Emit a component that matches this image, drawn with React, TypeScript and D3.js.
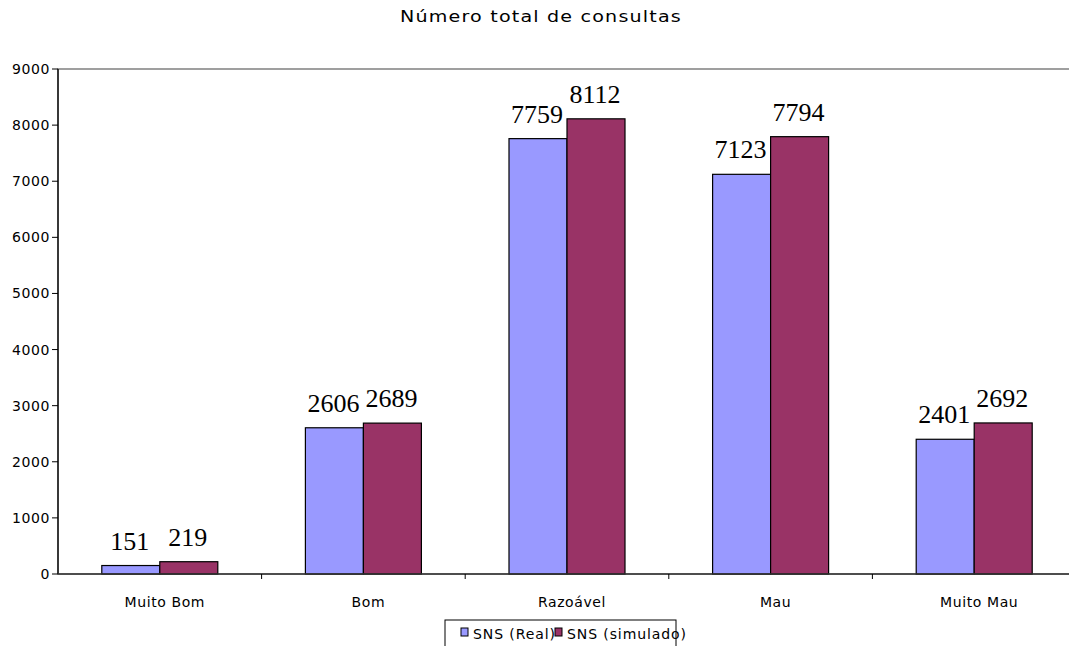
import React from "react";
import * as d3 from "d3";

const categories = ["Muito Bom", "Bom", "Razoável", "Mau", "Muito Mau"];
const seriesNames = ["SNS (Real)", "SNS (simulado)"];
const realValues = [151, 2606, 7759, 7123, 2401];
const simValues = [219, 2689, 8112, 7794, 2692];
const yTicks = [0, 1000, 2000, 3000, 4000, 5000, 6000, 7000, 8000, 9000];
const colors = ["#9999FF", "#993366"];

const W = 1069;
const H = 646;
const left = 58;
const top = 69;
const bottom = 574;
const bandW = 203.6;
const right = left + bandW * categories.length;

export default function App() {
  const x = d3.scaleBand<string>().domain(categories).range([left, right]);
  const y = d3.scaleLinear().domain([0, 9000]).range([bottom, top]);
  const barW = 58;
  const series = [realValues, simValues];
  const sans = "'DejaVu Sans', Verdana, sans-serif";
  const serif = "'Liberation Serif', 'Times New Roman', serif";

  return (
    <svg
      width={W}
      height={H}
      style={{ position: "absolute", left: 0, top: 0, background: "#fff" }}
    >
      <rect x={0} y={0} width={W} height={H} fill="#fff" />
      <text
        x={400}
        y={22}
        textLength={282}
        lengthAdjust="spacingAndGlyphs"
        fontFamily={sans}
        fontSize={16}
        letterSpacing={1}
        fill="#000"
      >
        Número total de consultas
      </text>
      {/* plot area border */}
      <rect
        x={left}
        y={top}
        width={right - left}
        height={bottom - top}
        fill="none"
        stroke="#808080"
        strokeWidth={1.5}
      />
      {/* bars */}
      {categories.map((c, i) => {
        const cx = (x(c) as number) + x.bandwidth() / 2;
        return series.map((s, j) => {
          const v = s[i];
          const bx = cx - barW + j * barW;
          return (
            <g key={c + j}>
              <rect
                x={bx}
                y={y(v)}
                width={barW}
                height={bottom - y(v)}
                fill={colors[j]}
                stroke="#000"
                strokeWidth={1.2}
              />
              <text
                x={bx + barW / 2 - 1}
                y={y(v) - 16}
                textAnchor="middle"
                fontFamily={serif}
                fontSize={26}
                fill="#000"
              >
                {v}
              </text>
            </g>
          );
        });
      })}
      {/* y axis */}
      <line x1={left} x2={left} y1={top} y2={bottom} stroke="#000" strokeWidth={1.3} />
      {yTicks.map((t) => (
        <g key={t}>
          <line x1={left - 6} x2={left} y1={y(t)} y2={y(t)} stroke="#000" strokeWidth={1} />
          <text
            x={50}
            y={y(t) + 5}
            textAnchor="end"
            fontFamily={sans}
            fontSize={14}
            letterSpacing={0.6}
            fill="#000"
          >
            {t}
          </text>
        </g>
      ))}
      {/* x axis */}
      <line x1={left} x2={W} y1={bottom} y2={bottom} stroke="#333" strokeWidth={1.3} />
      {categories.map((c, i) => (
        <g key={c}>
          <line
            x1={(x(c) as number) + x.bandwidth()}
            x2={(x(c) as number) + x.bandwidth()}
            y1={bottom}
            y2={bottom + 5}
            stroke="#000"
            strokeWidth={1}
          />
          <text
            x={(x(c) as number) + x.bandwidth() / 2 + 5}
            y={607}
            textAnchor="middle"
            fontFamily={sans}
            fontSize={14}
            letterSpacing={0.6}
            fill="#000"
          >
            {c}
          </text>
        </g>
      ))}
      {/* legend */}
      <rect x={445} y={620} width={231} height={40} fill="#fff" stroke="#000" strokeWidth={1} />
      {seriesNames.map((n, j) => {
        const lx = j === 0 ? 461 : 555;
        return (
          <g key={n}>
            <text x={lx + 12} y={639} fontFamily={sans} fontSize={14} letterSpacing={0.9} fill="#000">
              {n}
            </text>
            <rect x={lx} y={628} width={7} height={8} fill={colors[j]} stroke="#000" strokeWidth={1} />
          </g>
        );
      })}
    </svg>
  );
}
